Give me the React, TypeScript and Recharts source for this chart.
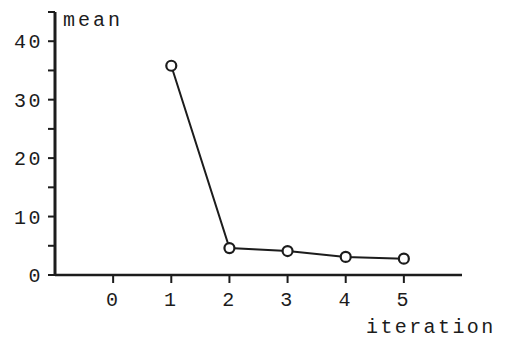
import * as React from "react";
import { Line, LineChart, XAxis, YAxis } from "recharts";

// Typewriter-style plot: black ink on paper, open circle markers.
const INK = "#1c1c1c";
const FONT = "'Liberation Mono', 'DejaVu Sans Mono', monospace";

const iterations = [1, 2, 3, 4, 5];
const means = [35.8, 4.6, 4.1, 3.1, 2.8];
const xTicks = [0, 1, 2, 3, 4, 5];
const yTicks = [0, 5, 10, 15, 20, 25, 30, 35, 40, 45];

const data = iterations.map((it, i) => ({ iteration: it, mean: means[i] }));

const tickStyle = { fill: INK, fontSize: 20, fontFamily: FONT, letterSpacing: 2.5 };

export default function App() {
  return (
    <div style={{ position: "absolute", left: 0, top: 0, width: 509, height: 340, background: "#fff" }}>
      <LineChart width={509} height={340} data={data} margin={{ top: 12, right: 47, bottom: 40, left: 0 }}>
        <XAxis
          dataKey="iteration"
          type="number"
          domain={[-1, 6]}
          ticks={xTicks}
          height={25}
          tickSize={8}
          tickMargin={9}
          stroke={INK}
          tick={tickStyle}
          axisLine={{ stroke: INK, strokeWidth: 2.5 }}
          tickLine={{ stroke: INK, strokeWidth: 2 }}
        />
        <YAxis
          type="number"
          domain={[0, 45]}
          ticks={yTicks}
          width={55}
          tickSize={7}
          tickMargin={5}
          interval={0}
          tickFormatter={(v: number) => (v % 10 === 0 && v < 45 ? String(v) : "")}
          stroke={INK}
          tick={tickStyle}
          axisLine={{ stroke: INK, strokeWidth: 3 }}
          tickLine={{ stroke: INK, strokeWidth: 2 }}
        />
        <Line
          type="linear"
          dataKey="mean"
          stroke={INK}
          strokeWidth={2}
          dot={{ r: 5, stroke: INK, strokeWidth: 2.2, fill: "#fff" }}
          isAnimationActive={false}
        />
      </LineChart>
      <div style={{ position: "absolute", left: 63, top: 9, fontFamily: FONT, fontSize: 20, letterSpacing: 3, color: INK }}>
        mean
      </div>
      <div style={{ position: "absolute", left: 366, top: 316, fontFamily: FONT, fontSize: 20, letterSpacing: 2.4, color: INK }}>
        iteration
      </div>
    </div>
  );
}
